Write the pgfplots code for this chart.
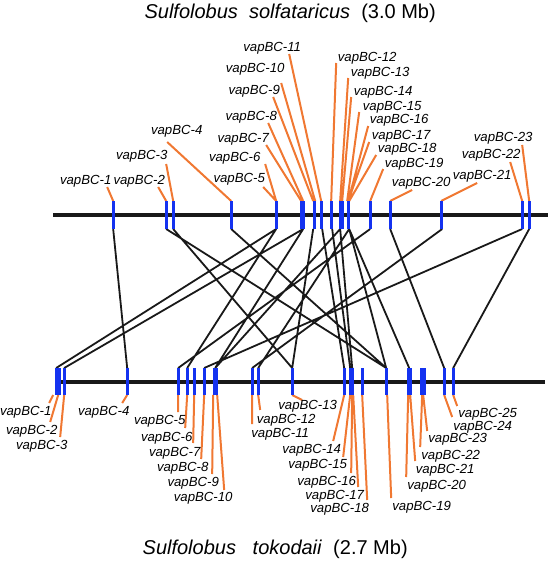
\documentclass[border=0pt]{standalone}
\usepackage{pgfplots}
\pgfplotsset{compat=1.18}
\usepackage{fontspec}
\setmainfont{Liberation Sans}
\definecolor{og}{RGB}{240,120,50}
\definecolor{bl}{RGB}{20,50,240}
\definecolor{bk}{RGB}{25,25,25}
\tikzset{lab/.style={font=\fontsize{13.2bp}{15bp}\selectfont\itshape,inner sep=0pt}}
\begin{document}
\begin{tikzpicture}
\begin{axis}[width=548bp,height=563bp,scale only axis,xmin=0,xmax=548,ymin=0,ymax=563,
 y dir=reverse,hide axis,clip=false,unbounded coords=jump,
 every axis plot/.append style={no marks}]
\addplot[draw=none] coordinates {(0,0) (548,563)};
% chromosomes
\addplot[bk,line width=4.5bp] coordinates {(53,215) (548,215)};
\addplot[bk,line width=4.5bp] coordinates {(55,382) (545,382)};
% connecting lines
\addplot[bk,line width=1.8bp] coordinates {
(113,229) (127,368) (nan,nan)
(166,229) (386,368) (nan,nan)
(173,229) (292,368) (nan,nan)
(231,229) (386,368) (nan,nan)
(276,229) (56,368) (nan,nan)
(276,229) (187,368) (nan,nan)
(303,229) (64,368) (nan,nan)
(303,229) (215,368) (nan,nan)
(313,229) (292,368) (nan,nan)
(322,229) (344,368) (nan,nan)
(332,229) (350,368) (nan,nan)
(340,229) (215,368) (nan,nan)
(340,229) (352,368) (nan,nan)
(349,229) (258,368) (nan,nan)
(349,229) (386,368) (nan,nan)
(349,229) (409,368) (nan,nan)
(370,229) (178,368) (nan,nan)
(390,229) (444,368) (nan,nan)
(442,229) (252,368) (nan,nan)
(522,229) (204,368) (nan,nan)
(529,229) (453,368)
};
% orange label lines top
\addplot[og,line width=2bp] coordinates {
(107,187) (113,201) (nan,nan)
(158,187) (166,201) (nan,nan)
(166,164) (173,201) (nan,nan)
(167,142) (231,201) (nan,nan)
(263,187) (276,201) (nan,nan)
(265,164) (276,201) (nan,nan)
(266,145) (301,201) (nan,nan)
(268,123) (303,201) (nan,nan)
(273,97) (313,201) (nan,nan)
(281,83) (315,201) (nan,nan)
(289,54) (321,201) (nan,nan)
(336,63) (331,201) (nan,nan)
(348,78) (340,201) (nan,nan)
(351,97) (342,201) (nan,nan)
(359,112) (347,201) (nan,nan)
(368,126) (348,201) (nan,nan)
(369,142) (348,201) (nan,nan)
(376,155) (349,201) (nan,nan)
(383,169) (370,201) (nan,nan)
(412,190) (390,201) (nan,nan)
(477,183) (441,201) (nan,nan)
(510,162) (522,201) (nan,nan)
(522,145) (529,201)
};
% orange label lines bottom
\addplot[og,line width=2bp] coordinates {
(53,395) (49,403) (nan,nan)
(58,395) (50,422) (nan,nan)
(64,395) (60,437) (nan,nan)
(127,395) (122,403) (nan,nan)
(178,395) (178,412) (nan,nan)
(187,395) (185,428) (nan,nan)
(194,395) (193,443) (nan,nan)
(204,395) (201,459) (nan,nan)
(213,395) (212,474) (nan,nan)
(217,395) (224,490) (nan,nan)
(252,395) (252,424) (nan,nan)
(258,395) (260,410) (nan,nan)
(292,395) (302,400) (nan,nan)
(344,395) (333,441) (nan,nan)
(350,395) (343,457) (nan,nan)
(352,395) (351,473) (nan,nan)
(353,395) (358,487) (nan,nan)
(362,395) (367,500) (nan,nan)
(387,395) (391,498) (nan,nan)
(408,395) (406,477) (nan,nan)
(410,395) (415,461) (nan,nan)
(422,395) (420,447) (nan,nan)
(423,395) (427,431) (nan,nan)
(444,395) (452,417) (nan,nan)
(453,395) (457,406)
};
% blue markers top
\addplot[bl,line width=3bp] coordinates {
(113,201) (113,229) (nan,nan)
(166,201) (166,229) (nan,nan)
(173,201) (173,229) (nan,nan)
(231,201) (231,229) (nan,nan)
(276,201) (276,229) (nan,nan)
(301,201) (301,229) (nan,nan)
(303,201) (303,229) (nan,nan)
(314,201) (314,229) (nan,nan)
(321,201) (321,229) (nan,nan)
(331,201) (331,229) (nan,nan)
(340,201) (340,229) (nan,nan)
(342,201) (342,229) (nan,nan)
(348,201) (348,229) (nan,nan)
(370,201) (370,229) (nan,nan)
(390,201) (390,229) (nan,nan)
(441,201) (441,229) (nan,nan)
(522,201) (522,229) (nan,nan)
(529,201) (529,229)
};
% blue markers bottom
\addplot[bl,line width=3bp] coordinates {
(56,368) (56,395) (nan,nan)
(59,368) (59,395) (nan,nan)
(64,368) (64,395) (nan,nan)
(127,368) (127,395) (nan,nan)
(178,368) (178,395) (nan,nan)
(187,368) (187,395) (nan,nan)
(194,368) (194,395) (nan,nan)
(204,368) (204,395) (nan,nan)
(214,368) (214,395) (nan,nan)
(216,368) (216,395) (nan,nan)
(252,368) (252,395) (nan,nan)
(258,368) (258,395) (nan,nan)
(292,368) (292,395) (nan,nan)
(344,368) (344,395) (nan,nan)
(350,368) (350,395) (nan,nan)
(352,368) (352,395) (nan,nan)
(362,368) (362,395) (nan,nan)
(386,368) (386,395) (nan,nan)
(408,368) (408,395) (nan,nan)
(410,368) (410,395) (nan,nan)
(421,368) (421,395) (nan,nan)
(424,368) (424,395) (nan,nan)
(444,368) (444,395) (nan,nan)
(453,368) (453,395)
};
% titles
\node[font=\fontsize{20bp}{22bp}\selectfont,inner sep=0pt] at (axis cs:290,13) {\textit{Sulfolobus\ \ solfataricus}\ \ (3.0 Mb)};
\node[font=\fontsize{20bp}{22bp}\selectfont,inner sep=0pt] at (axis cs:275,549) {\textit{Sulfolobus\ \ \ tokodaii}\ \ (2.7 Mb)};
% top labels
\node[lab] at (axis cs:85.5,181) {vapBC-1};
\node[lab] at (axis cs:139,181) {vapBC-2};
\node[lab] at (axis cs:141.5,156) {vapBC-3};
\node[lab] at (axis cs:176.5,131) {vapBC-4};
\node[lab] at (axis cs:239,179) {vapBC-5};
\node[lab] at (axis cs:234.5,158) {vapBC-6};
\node[lab] at (axis cs:243,139) {vapBC-7};
\node[lab] at (axis cs:251,117) {vapBC-8};
\node[lab] at (axis cs:254,91) {vapBC-9};
\node[lab] at (axis cs:255,69) {vapBC-10};
\node[lab] at (axis cs:272,48) {vapBC-11};
\node[lab] at (axis cs:367,58) {vapBC-12};
\node[lab] at (axis cs:380,73) {vapBC-13};
\node[lab] at (axis cs:383,92) {vapBC-14};
\node[lab] at (axis cs:392,107) {vapBC-15};
\node[lab] at (axis cs:399,120.5) {vapBC-16};
\node[lab] at (axis cs:401,136) {vapBC-17};
\node[lab] at (axis cs:407,149.5) {vapBC-18};
\node[lab] at (axis cs:414,164.5) {vapBC-19};
\node[lab] at (axis cs:421,183) {vapBC-20};
\node[lab] at (axis cs:482,176) {vapBC-21};
\node[lab] at (axis cs:491,155) {vapBC-22};
\node[lab] at (axis cs:503,138) {vapBC-23};
% bottom labels
\node[lab] at (axis cs:25.5,412) {vapBC-1};
\node[lab] at (axis cs:31.5,431) {vapBC-2};
\node[lab] at (axis cs:41.5,446) {vapBC-3};
\node[lab] at (axis cs:103.5,412) {vapBC-4};
\node[lab] at (axis cs:159.5,421) {vapBC-5};
\node[lab] at (axis cs:166.5,438) {vapBC-6};
\node[lab] at (axis cs:174.5,453) {vapBC-7};
\node[lab] at (axis cs:182.5,468) {vapBC-8};
\node[lab] at (axis cs:193,483) {vapBC-9};
\node[lab] at (axis cs:203,498) {vapBC-10};
\node[lab] at (axis cs:280,434) {vapBC-11};
\node[lab] at (axis cs:286,420.5) {vapBC-12};
\node[lab] at (axis cs:307.5,406.5) {vapBC-13};
\node[lab] at (axis cs:311.5,450) {vapBC-14};
\node[lab] at (axis cs:317.5,465) {vapBC-15};
\node[lab] at (axis cs:326.5,482) {vapBC-16};
\node[lab] at (axis cs:334.5,496) {vapBC-17};
\node[lab] at (axis cs:339.5,509.5) {vapBC-18};
\node[lab] at (axis cs:421.5,507) {vapBC-19};
\node[lab] at (axis cs:436.5,486) {vapBC-20};
\node[lab] at (axis cs:445,470) {vapBC-21};
\node[lab] at (axis cs:450.5,456) {vapBC-22};
\node[lab] at (axis cs:457.5,439) {vapBC-23};
\node[lab] at (axis cs:482.5,427) {vapBC-24};
\node[lab] at (axis cs:487.5,414) {vapBC-25};
\end{axis}
\end{tikzpicture}
\end{document}
